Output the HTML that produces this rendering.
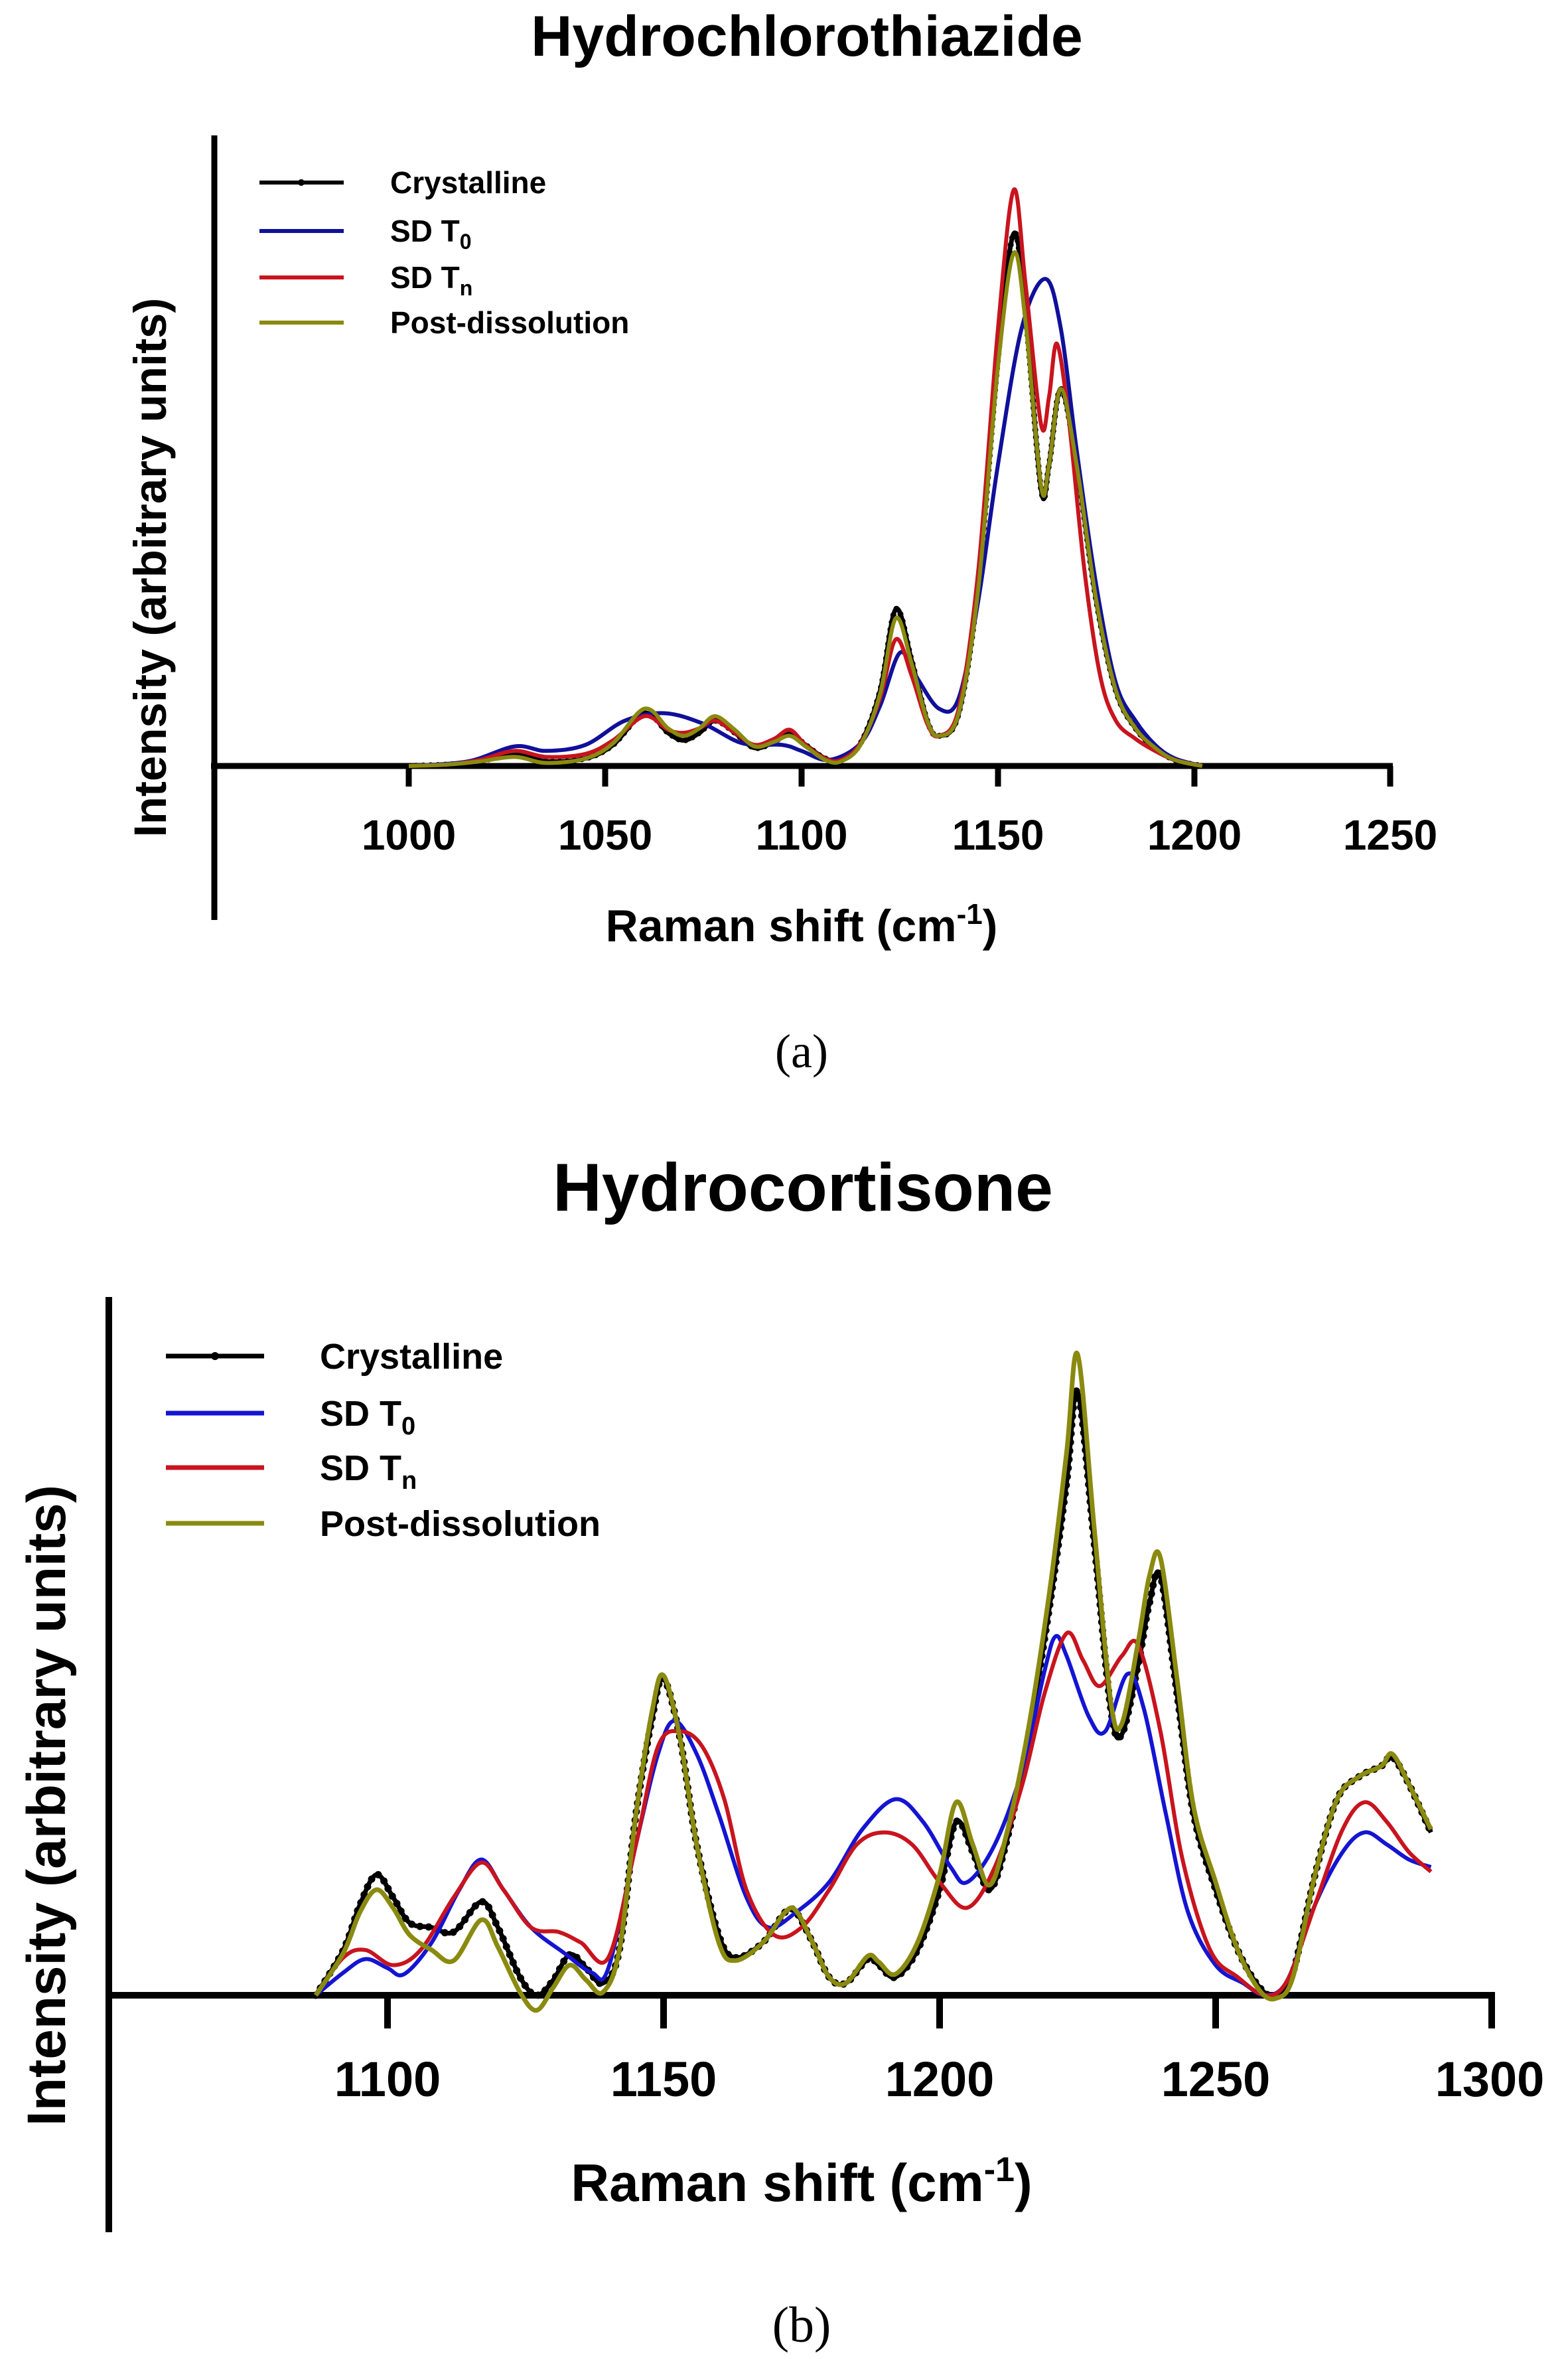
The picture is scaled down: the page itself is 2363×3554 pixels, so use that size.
<!DOCTYPE html>
<html><head><meta charset="utf-8">
<style>
html,body{margin:0;padding:0;background:#fff;}
svg{display:block;}
text{font-family:"Liberation Sans",Arial,sans-serif;font-weight:bold;fill:#000;}
.serif{font-family:"Liberation Serif",serif;font-weight:normal;}
</style></head>
<body>
<svg id="s" width="2363" height="3554" viewBox="0 0 2363 3554" xmlns="http://www.w3.org/2000/svg">
<rect width="2363" height="3554" fill="#fff"/>
<!-- TOP CHART -->
<text x="1216" y="84" font-size="86" text-anchor="middle">Hydrochlorothiazide</text>
<g stroke="#000" stroke-width="9" fill="none">
<line x1="323" y1="204" x2="323" y2="1386"/>
<line x1="318" y1="1154" x2="2099" y2="1154"/>
<line x1="616" y1="1154" x2="616" y2="1185"/>
<line x1="912" y1="1154" x2="912" y2="1185"/>
<line x1="1208" y1="1154" x2="1208" y2="1185"/>
<line x1="1504" y1="1154" x2="1504" y2="1185"/>
<line x1="1800" y1="1154" x2="1800" y2="1185"/>
<line x1="2095" y1="1154" x2="2095" y2="1185"/>
</g>
<g font-size="64" text-anchor="middle">
<text x="616" y="1280">1000</text><text x="912" y="1280">1050</text><text x="1208" y="1280">1100</text>
<text x="1504" y="1280">1150</text><text x="1800" y="1280">1200</text><text x="2095" y="1280">1250</text>
</g>
<text x="1208" y="1418" font-size="68" text-anchor="middle">Raman shift (cm<tspan font-size="44" dy="-26">-1</tspan><tspan dy="26">)</tspan></text>
<text transform="translate(250,855) rotate(-90)" font-size="69" text-anchor="middle">Intensity (arbitrary units)</text>
<g id="top"></g>
<g stroke-width="6">
<line x1="391" y1="275" x2="518" y2="275" stroke="#000"/>
<circle cx="454" cy="275" r="5" fill="#000"/>
<line x1="391" y1="348" x2="518" y2="348" stroke="#10109a"/>
<line x1="391" y1="418" x2="518" y2="418" stroke="#c8141e"/>
<line x1="391" y1="486" x2="518" y2="486" stroke="#8a8a10"/>
</g>
<g font-size="46">
<text x="588" y="291">Crystalline</text>
<text x="588" y="364">SD T<tspan font-size="32" dy="11">0</tspan></text>
<text x="588" y="434">SD T<tspan font-size="32" dy="11">n</tspan></text>
<text x="588" y="502">Post-dissolution</text>
</g>
<text class="serif" x="1208" y="1608" font-size="72" text-anchor="middle">(a)</text>

<!-- BOTTOM CHART -->
<text x="1210" y="1824" font-size="102" text-anchor="middle">Hydrocortisone</text>
<g stroke="#000" stroke-width="10" fill="none">
<line x1="164" y1="1954" x2="164" y2="3363"/>
<line x1="159" y1="3006" x2="2253" y2="3006"/>
<line x1="584" y1="3006" x2="584" y2="3056"/>
<line x1="1000" y1="3006" x2="1000" y2="3056"/>
<line x1="1416" y1="3006" x2="1416" y2="3056"/>
<line x1="1832" y1="3006" x2="1832" y2="3056"/>
<line x1="2248" y1="3006" x2="2248" y2="3056"/>
</g>
<g font-size="74" text-anchor="middle">
<text x="584" y="3158">1100</text><text x="1000" y="3158">1150</text><text x="1416" y="3158">1200</text>
<text x="1832" y="3158">1250</text><text x="2245" y="3158">1300</text>
</g>
<text x="1208" y="3316" font-size="80" text-anchor="middle">Raman shift (cm<tspan font-size="52" dy="-30">-1</tspan><tspan dy="30">)</tspan></text>
<text transform="translate(98,2720) rotate(-90)" font-size="82" text-anchor="middle">Intensity (arbitrary units)</text>
<g id="bot"></g>
<g stroke-width="7">
<line x1="250" y1="2043" x2="398" y2="2043" stroke="#000"/>
<circle cx="324" cy="2043" r="6" fill="#000"/>
<line x1="250" y1="2129" x2="398" y2="2129" stroke="#1414d2"/>
<line x1="250" y1="2211" x2="398" y2="2211" stroke="#c8141e"/>
<line x1="250" y1="2295" x2="398" y2="2295" stroke="#8a8a10"/>
</g>
<g font-size="54">
<text x="482" y="2062">Crystalline</text>
<text x="482" y="2148">SD T<tspan font-size="38" dy="13">0</tspan></text>
<text x="482" y="2230">SD T<tspan font-size="38" dy="13">n</tspan></text>
<text x="482" y="2314">Post-dissolution</text>
</g>
<text class="serif" x="1208" y="3528" font-size="76" text-anchor="middle">(b)</text>
</svg>
<script>
function cr(pts){
  var d="M"+pts[0][0].toFixed(1)+" "+pts[0][1].toFixed(1);
  for(var i=0;i<pts.length-1;i++){
    var p0=pts[i>0?i-1:0],p1=pts[i],p2=pts[i+1],p3=pts[i+2<pts.length?i+2:i+1];
    var c1x=p1[0]+(p2[0]-p0[0])/6,c1y=p1[1]+(p2[1]-p0[1])/6;
    var c2x=p2[0]-(p3[0]-p1[0])/6,c2y=p2[1]-(p3[1]-p1[1])/6;
    d+=" C"+c1x.toFixed(1)+" "+c1y.toFixed(1)+" "+c2x.toFixed(1)+" "+c2y.toFixed(1)+" "+p2[0].toFixed(1)+" "+p2[1].toFixed(1);
  }
  return d;
}
var NS="http://www.w3.org/2000/svg";
function add(g,d,col,w,dash){
  var p=document.createElementNS(NS,"path");
  p.setAttribute("d",d);p.setAttribute("fill","none");p.setAttribute("stroke",col);
  p.setAttribute("stroke-width",w);p.setAttribute("stroke-linejoin","round");
  if(dash){p.setAttribute("stroke-dasharray",dash);p.setAttribute("stroke-linecap","round");}
  document.getElementById(g).appendChild(p);
}
function mk(data,x0,v0,sx,base,sy){return data.map(function(a){return [x0+(a[0]-v0)*sx, base-a[1]*sy];});}
var S=2.272;
var tC=[[1000,0],[1010,1],[1018,3],[1027,8],[1035,3],[1045,5],[1052,14],[1060,35],[1066,22],[1070,17],[1074,22],[1078,30],[1083,22],[1088,12],[1093,16],[1097,22],[1101,14],[1106,5],[1110,4],[1115,15],[1120,50],[1124,104],[1128,70],[1132,30],[1135,20],[1140,35],[1145,120],[1150,270],[1154,353],[1157,300],[1161,183],[1163,200],[1166,250],[1170,200],[1175,110],[1180,50],[1185,25],[1190,12],[1195,4],[1202,0]];
var tP=[[1000,0],[1010,1],[1018,3],[1027,6],[1035,2],[1045,5],[1052,15],[1060,38],[1066,25],[1070,20],[1074,25],[1078,33],[1083,24],[1088,13],[1093,16],[1097,20],[1101,13],[1106,4],[1110,3],[1115,14],[1120,48],[1124,98],[1128,68],[1132,30],[1135,20],[1140,35],[1145,118],[1150,265],[1154,340],[1157,295],[1161,185],[1163,200],[1166,250],[1170,200],[1175,110],[1180,50],[1185,25],[1190,12],[1195,4],[1202,0]];
var tR=[[1000,0],[1010,1],[1018,4],[1027,10],[1035,6],[1045,8],[1052,17],[1060,33],[1066,24],[1070,22],[1074,25],[1078,30],[1083,22],[1088,14],[1093,18],[1097,24],[1101,14],[1106,5],[1110,4],[1115,15],[1120,45],[1124,84],[1128,60],[1132,28],[1135,20],[1140,38],[1145,130],[1150,290],[1154,382],[1157,320],[1161,226],[1163,245],[1165,280],[1168,230],[1172,130],[1176,60],[1180,30],[1185,18],[1190,10],[1195,4],[1202,0]];
var tB=[[1000,0],[1015,3],[1027,13],[1035,10],[1045,14],[1055,30],[1065,35],[1075,28],[1085,15],[1095,14],[1100,10],[1107,4],[1115,15],[1120,40],[1125,75],[1129,60],[1135,38],[1140,45],[1145,110],[1150,200],[1156,290],[1162,323],[1166,290],[1170,210],[1175,120],[1180,55],[1185,30],[1190,14],[1195,5],[1202,0]];
function T(d){return cr(mk(d,616,1000,5.92,1154,S));}
add("top",T(tC),"#000",7);
add("top",T(tC),"#000",9,"0 11");
add("top",T(tB),"#10109a",6);
add("top",T(tR),"#c8141e",6);
add("top",T(tP),"#8a8a10",6);
var bC=[[1087,0],[1092,30],[1095,60],[1098,80],[1101,65],[1104,48],[1108,45],[1112,42],[1117,62],[1120,45],[1124,12],[1127,0],[1130,10],[1133,27],[1136,18],[1139,8],[1142,30],[1145,120],[1148,185],[1150,210],[1153,170],[1156,100],[1160,40],[1163,25],[1168,35],[1172,55],[1174,55],[1177,35],[1180,12],[1183,8],[1187,24],[1189,20],[1192,12],[1196,30],[1200,70],[1203,115],[1206,95],[1209,70],[1212,100],[1216,170],[1220,260],[1223,340],[1225,400],[1228,300],[1231,190],[1233,173],[1236,220],[1238,260],[1240,278],[1243,200],[1246,120],[1250,70],[1254,30],[1258,5],[1261,0],[1264,15],[1268,80],[1272,130],[1276,145],[1280,152],[1282,158],[1285,140],[1289,108]];
var bP=[[1087,0],[1092,28],[1095,55],[1098,70],[1101,58],[1104,40],[1108,30],[1112,23],[1117,50],[1120,32],[1124,2],[1127,-10],[1130,5],[1133,20],[1136,10],[1139,2],[1142,30],[1145,120],[1148,190],[1150,212],[1153,170],[1156,100],[1160,35],[1163,23],[1168,35],[1172,55],[1174,56],[1177,35],[1180,12],[1183,8],[1187,26],[1189,22],[1192,14],[1196,35],[1200,80],[1203,128],[1206,100],[1209,73],[1212,105],[1216,175],[1220,270],[1223,360],[1225,425],[1228,310],[1231,195],[1233,180],[1236,235],[1238,278],[1240,290],[1243,210],[1246,125],[1250,75],[1254,30],[1258,3],[1261,-2],[1264,12],[1268,80],[1272,130],[1276,145],[1280,152],[1282,160],[1285,140],[1289,110]];
var bB=[[1087,0],[1092,15],[1096,24],[1100,18],[1103,14],[1108,35],[1113,70],[1117,90],[1121,70],[1126,45],[1132,28],[1137,15],[1140,18],[1145,100],[1149,160],[1152,182],[1156,160],[1160,120],[1165,65],[1169,45],[1174,55],[1180,75],[1186,110],[1192,130],[1197,115],[1202,85],[1205,75],[1210,100],[1215,150],[1219,215],[1221,238],[1223,225],[1227,185],[1230,175],[1234,213],[1237,190],[1241,120],[1245,55],[1250,20],[1255,8],[1259,0],[1263,10],[1268,60],[1273,95],[1277,108],[1281,100],[1285,90],[1289,85]];
var bR=[[1087,0],[1092,25],[1096,30],[1101,20],[1106,30],[1112,65],[1117,88],[1121,70],[1126,45],[1131,42],[1135,35],[1140,25],[1145,100],[1149,165],[1153,175],[1157,165],[1161,130],[1165,70],[1170,40],[1175,45],[1180,70],[1185,100],[1190,108],[1195,100],[1200,75],[1205,58],[1210,85],[1215,140],[1219,200],[1223,240],[1226,222],[1229,205],[1233,225],[1236,232],[1240,175],[1244,90],[1249,30],[1254,12],[1259,0],[1263,10],[1268,60],[1273,110],[1277,128],[1281,115],[1285,95],[1289,82]];
function B(d){return cr(mk(d,584,1100,8.32,3006,S));}
add("bot",B(bC),"#000",7);
add("bot",B(bC),"#000",11,"0 13");
add("bot",B(bB),"#1414d2",6);
add("bot",B(bR),"#c8141e",6);
add("bot",B(bP),"#8a8a10",7);
</script>
</body></html>
